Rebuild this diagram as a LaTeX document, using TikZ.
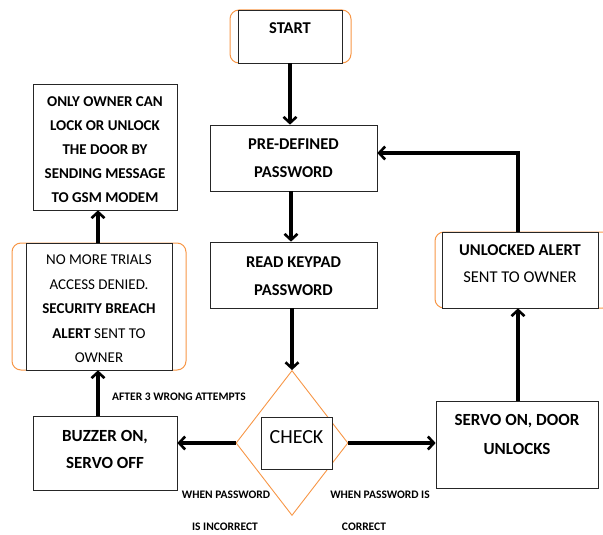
\documentclass[tikz,border=0pt]{standalone}
\usepackage{fontspec}
\setmainfont{Carlito}
\usetikzlibrary{arrows.meta,shapes.geometric}

\definecolor{accent}{HTML}{F79646}

\tikzset{
  boxframe/.style={draw=black!85, line width=0.7pt, fill=white},
  bracket/.style={draw=accent, line width=1pt, rounded corners=9pt},
  txt/.style={align=center, inner sep=0pt, font=\fontsize{16.5}{28}\selectfont\bfseries},
  plain/.style={align=center, inner sep=0pt, font=\fontsize{15}{24.5}\selectfont},
  note/.style={inner sep=0pt, font=\fontsize{11.5}{12}\selectfont\bfseries},
  flow/.style={line width=3.2pt, -{Straight Barb[length=6pt,width=13pt,line width=2.6pt]}}
}

\begin{document}
\begin{tikzpicture}[x=1pt,y=-1pt]
\useasboundingbox (0,0) rectangle (603,535);

% START
\draw[bracket] (230,10) rectangle (351,63);
\node[boxframe, minimum width=104pt, minimum height=53pt, inner sep=0pt] (start) at (290,36.5) {};
\node[txt] (tstart) at (290,28) {START};

% predefined password
\node[boxframe, minimum width=167pt, minimum height=66pt, inner sep=0pt] (pre) at (293.5,158) {};
\node[txt] (tpre) at (293.5,158) {PRE-DEFINED\\PASSWORD};

% read keypad
\node[boxframe, minimum width=167pt, minimum height=66pt, inner sep=0pt] (read) at (293.5,275) {};
\node[txt] (tread) at (293.5,276) {READ KEYPAD\\PASSWORD};

% decision
\node[diamond, draw=accent, line width=0.9pt, minimum width=112pt, minimum height=145pt, inner sep=0pt, aspect=0.77] (check) at (292,443) {};
\node[boxframe, minimum width=71pt, minimum height=52pt, inner sep=0pt] (checkbox) at (296.5,443) {};
\node[inner sep=0pt, font=\fontsize{20}{24}\selectfont] (tcheck) at (296.5,437) {CHECK};

% buzzer
\node[boxframe, minimum width=144pt, minimum height=74pt, inner sep=0pt] (buzz) at (105,453) {};
\node[txt, font=\fontsize{17}{27}\selectfont\bfseries] (tbuzz) at (105,449.5) {BUZZER ON,\\SERVO OFF};

% servo on
\node[boxframe, minimum width=162pt, minimum height=87pt, inner sep=0pt] (servo) at (517,444.5) {};
\node[txt, font=\fontsize{17}{29}\selectfont\bfseries] (tservo) at (517,434.5) {SERVO ON, DOOR\\UNLOCKS};

% unlocked alert
\draw[bracket] (435,232) rectangle (612,308);
\node[boxframe, minimum width=156pt, minimum height=76pt, inner sep=0pt] (unl) at (520,270) {};
\node[plain, font=\fontsize{16.5}{27}\selectfont] (tunl) at (520,263.5) {\textbf{UNLOCKED ALERT}\\SENT TO OWNER};

% no more trials
\draw[bracket] (12,243) rectangle (186,370);
\node[boxframe, minimum width=146pt, minimum height=127pt, inner sep=0pt] (nomore) at (99,306.5) {};
\node[plain] (tnomore) at (99,309) {NO MORE TRIALS\\ACCESS DENIED.\\\textbf{SECURITY BREACH}\\\textbf{ALERT} SENT TO\\OWNER};

% owner control
\node[boxframe, minimum width=144pt, minimum height=126pt, inner sep=0pt] (owner) at (105,147) {};
\node[txt, font=\fontsize{15}{24}\selectfont\bfseries] (towner) at (105,150) {ONLY OWNER CAN\\LOCK OR UNLOCK\\THE DOOR BY\\SENDING MESSAGE\\TO GSM MODEM};

% connectors
\draw[flow] (start.south) -- (pre.north -| start.south);
\draw[flow] (pre.south -| 291,0) -- (read.north -| 291,0);
\draw[flow] (read.south -| check.north) -- (check.north);
\draw[flow] (check.west) -- (buzz.east |- check.west);
\draw[flow] (check.east) -- (servo.west |- check.east);
\draw[flow] (servo.north -| 518,0) -- (unl.south -| 518,0);
\coordinate (turn) at (518,153);
\draw[flow] (unl.north -| turn) -- (turn) -- (pre.east |- turn);
\draw[flow] (buzz.north -| 98,0) -- (nomore.south -| 98,0);
\draw[flow] (nomore.north -| 98,0) -- (owner.south -| 98,0);

% labels
\node[note] (lafter) at (179,397) {AFTER 3 WRONG ATTEMPTS};
\node[note] (lwrong1) at (226,495) {WHEN PASSWORD};
\node[note] (lwrong2) at (225,527) {IS INCORRECT};
\node[note] (lright1) at (380,495) {WHEN PASSWORD IS};
\node[note] (lright2) at (364,527) {CORRECT};
\end{tikzpicture}
\end{document}
